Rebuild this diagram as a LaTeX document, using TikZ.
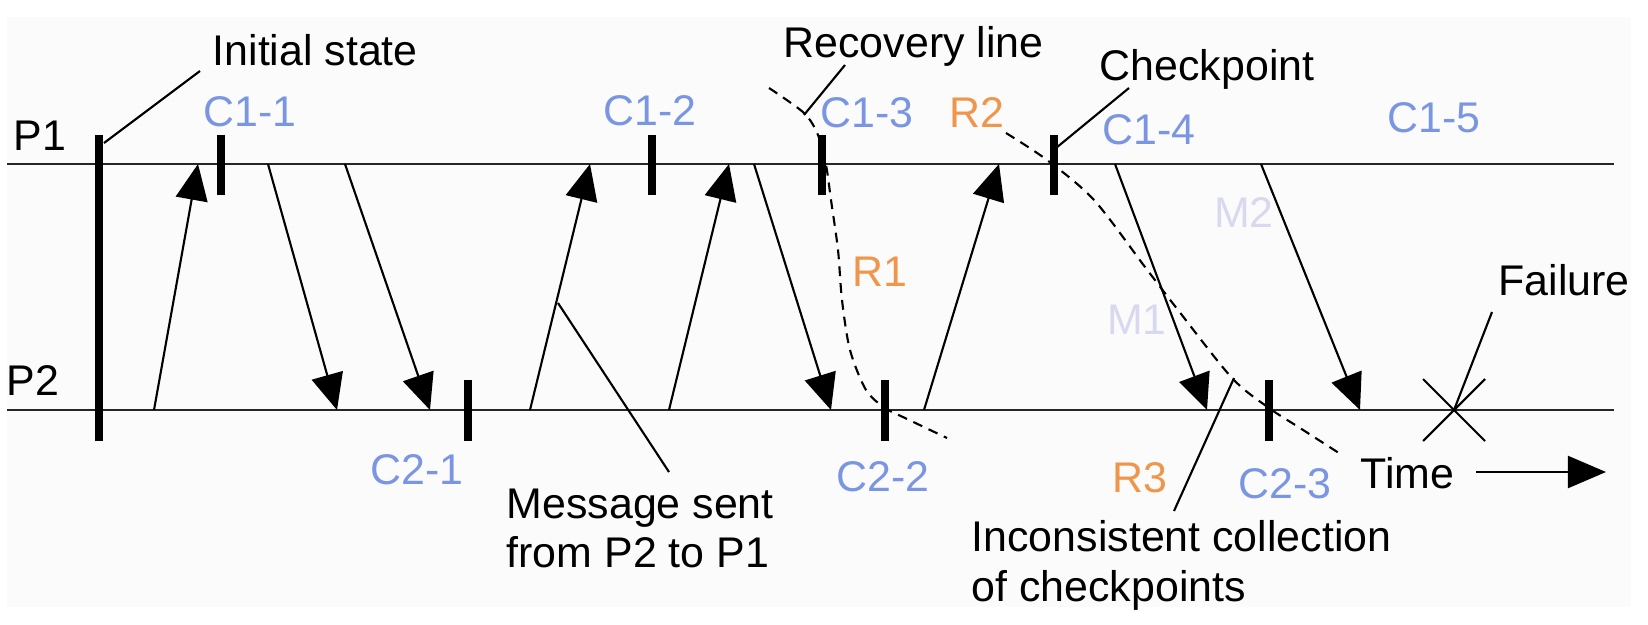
\documentclass[tikz,border=0pt]{standalone}
\usepackage{fontspec}
\setmainfont{Liberation Sans}
\usetikzlibrary{arrows.meta}

\definecolor{cpblue}{RGB}{122,150,226}
\definecolor{rorange}{RGB}{240,150,74}
\definecolor{mlav}{RGB}{216,217,238}
\definecolor{bgpanel}{RGB}{251,251,251}

\begin{document}
\begin{tikzpicture}[
    x=0.01cm, y=-0.01cm,
    every node/.style={font=\fontsize{12.2pt}{14pt}\selectfont, inner sep=0pt},
    proc/.style={line width=0.6pt, black!85},
    tick/.style={line width=2pt},
    msg/.style={-{Triangle[length=0.36cm, width=0.32cm]}, line width=0.6pt},
    lead/.style={line width=0.6pt},
    rline/.style={line width=0.6pt, dash pattern=on 2.8pt off 2pt},
    cplab/.style={text=cpblue},
    rlab/.style={text=rorange},
    mlab/.style={text=mlav}
]
\useasboundingbox (0,0) rectangle (1648,624);
\fill[bgpanel] (7,17) rectangle (1631,607);

% Process lines
\node[anchor=base west] (p1) at (13,150) {P1};
\node[anchor=base west] (p2) at (6,395) {P2};
\coordinate (p1w) at (7,164);  \coordinate (p1e) at (1614,164);
\coordinate (p2w) at (7,410);  \coordinate (p2e) at (1614,410);
\draw[proc] (p1w) -- (p1e);
\draw[proc] (p2w) -- (p2e);

% Initial state
\draw[tick] (99,135) -- (99,441);
\node[anchor=base west] (init) at (212,65) {Initial state};
\coordinate (initpt) at (104,143);
\coordinate (initlab) at (200,71);
\draw[lead] (initpt) -- (initlab);

% Checkpoints on P1 and P2
\foreach \x in {221,652,822,1054} \draw[tick] (\x,135) -- (\x,195);
\foreach \x in {468,885,1269} \draw[tick] (\x,380) -- (\x,441);

\node[cplab] (c11) at (250,112) {C1-1};
\node[cplab] (c12) at (650,111) {C1-2};
\node[cplab] (c13) at (867,113) {C1-3};
\node[cplab] (c14) at (1149,130) {C1-4};
\node[cplab] (c15) at (1434,118) {C1-5};
\node[cplab] (c21) at (417,470) {C2-1};
\node[cplab] (c22) at (883,477) {C2-2};
\node[cplab] (c23) at (1285,484) {C2-3};

% Messages P2 -> P1
\foreach \n/\a/\b in {1/154/198, 4/530/590, 5/669/729, 7/924/999} {
  \coordinate (m\n s) at (\a,410);
  \coordinate (m\n r) at (\b,164);
  \draw[msg] (m\n s) -- (m\n r);
}
% Messages P1 -> P2
\foreach \n/\a/\b in {2/268/337, 3/345/430, 6/754/831, 8/1115/1207, 9/1261/1360} {
  \coordinate (m\n s) at (\a,164);
  \coordinate (m\n r) at (\b,410);
  \draw[msg] (m\n s) -- (m\n r);
}
\node[mlab] (mone) at (1137,320) {M1};
\node[mlab] (mtwo) at (1244,213) {M2};

% Recovery lines
\draw[rline] plot[smooth] coordinates {(769,88) (804,113) (818,135) (826,165)
  (831,200) (838,250) (842,300) (850,350) (866,390) (885,408) (905,418) (947,438)};
\draw[rline] plot[smooth] coordinates {(1006,133) (1047,160) (1094,200)
  (1145,267) (1178,310) (1232,378) (1269,408) (1300,428) (1342,455)};
\node[rlab] (r1) at (880,272) {R1};
\node[rlab] (r2) at (977,113) {R2};
\node[rlab] (r3) at (1140,478) {R3};

% Annotations
\node[anchor=base west] (recov) at (783,57) {Recovery line};
\coordinate (recovpt) at (804,115);
\coordinate (recovlab) at (845,65);
\draw[lead] (recovpt) -- (recovlab);

\node[anchor=base west] (chk) at (1099,80) {Checkpoint};
\coordinate (chkpt) at (1056,148);
\coordinate (chklab) at (1129,88);
\draw[lead] (chkpt) -- (chklab);

\node[anchor=north west, align=left, font=\fontsize{12.2pt}{14pt}\selectfont] (msgsent) at (506,488) {Message sent\\from P2 to P1};
\coordinate (msgpt) at (558,303);
\coordinate (msglab) at (669,472);
\draw[lead] (msgpt) -- (msglab);

\node[anchor=north west, align=left, font=\fontsize{12.2pt}{14.2pt}\selectfont] (incons) at (971,520) {Inconsistent collection\\of checkpoints};
\coordinate (inconspt) at (1234,378);
\coordinate (inconslab) at (1174,511);
\draw[lead] (inconspt) -- (inconslab);

% Failure
\coordinate (fail) at (1454,410);
\draw[lead] (fail) ++(-31,-31) -- ++(62,62);
\draw[lead] (fail) ++(-31,31) -- ++(62,-62);
\node[anchor=base west] (failtxt) at (1498,295) {Failure};
\coordinate (faillab) at (1492,312);
\draw[lead] (fail) -- (faillab);

% Time axis
\node[anchor=base west] (time) at (1360,488) {Time};
\coordinate (tstart) at (1476,472);
\coordinate (tend) at (1606,472);
\draw[-{Triangle[length=0.38cm, width=0.32cm]}, line width=0.6pt] (tstart) -- (tend);

\end{tikzpicture}
\end{document}
